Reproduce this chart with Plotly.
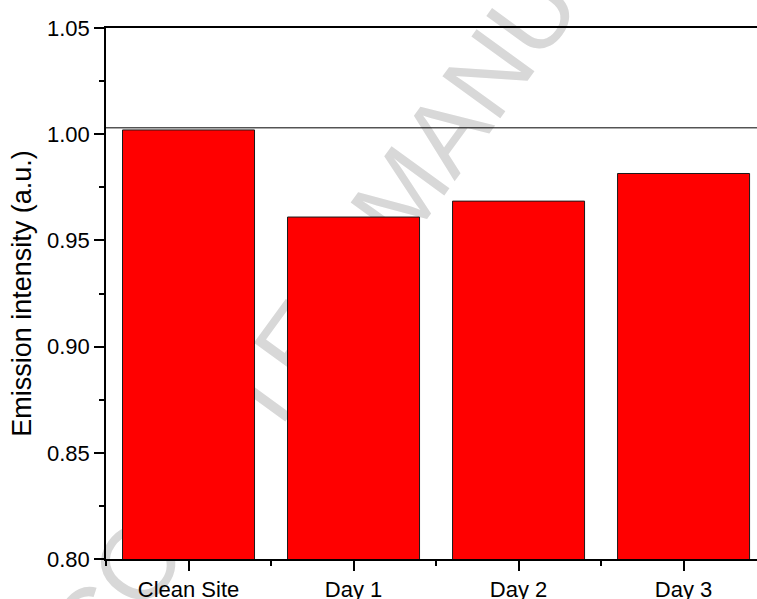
import math
import plotly.graph_objects as go

# Emission intensity for each sampling stage
categories = ["Clean Site", "Day 1", "Day 2", "Day 3"]
intensity = [1.002, 0.961, 0.9685, 0.9815]
reference_level = 1.003

y_ticks = [0.80, 0.85, 0.90, 0.95, 1.00, 1.05]
y_tick_labels = ["0.80", "0.85", "0.90", "0.95", "1.00", "1.05"]

watermark_words = ["ACCEPTED", "MANUSCRIPT"]

FONT = "Liberation Sans, Arial, sans-serif"
W, H = 757, 599
ML, MR, MT, MB = 106, 0, 28, 40
PW, PH = W - ML - MR, H - MT - MB

x_pos = list(range(len(categories)))

fig = go.Figure()
fig.add_trace(go.Bar(
    x=x_pos, y=intensity, width=0.8,
    marker=dict(color="#ff0000", line=dict(color="#1a1a1a", width=1)),
    showlegend=False, hoverinfo="skip",
))

# Watermark: two words laid along a diagonal, drawn as tick labels on
# hidden overlay axes placed below the bars.
angle = 54.0
wm_size = 104
sa, ca = math.sin(math.radians(angle)), math.cos(math.radians(angle))
ux, uy = ca, -sa                       # reading direction
baseline_start = (393.0, 258.0)        # baseline point where word two begins
gap = 0.278 * wm_size                  # width of the space between words
mid = 0.35 * wm_size                   # labels are centred on their anchor
pad = 3.0

second = (baseline_start[0] - mid * sa - pad, baseline_start[1] - mid * ca)
first = (baseline_start[0] - gap * ux - mid * sa + pad,
         baseline_start[1] - gap * uy - mid * ca)


def to_paper(p):
    return (p[0] - ML) / PW, (H - MB - p[1]) / PH


wm_font = dict(family=FONT, size=wm_size, color="#d8d8d8")

for yname, side, pt, word in (("y3", "left", first, watermark_words[0]),
                               ("y2", "right", second, watermark_words[1])):
    px_, py_ = to_paper(pt)
    fig.add_trace(go.Scatter(x=[0], y=[0.5], yaxis=yname, mode="markers",
                             marker=dict(opacity=0), showlegend=False,
                             hoverinfo="skip"))
    fig.layout["yaxis" + yname[1:]] = dict(
        overlaying="y", anchor="free", position=px_, side=side,
        range=[0, 1], tickmode="array", tickvals=[py_], ticktext=[word],
        tickangle=-angle, tickfont=wm_font, ticks="", showline=False,
        ticklabeloverflow="allow", automargin=False,
        showgrid=False, zeroline=False, layer="below traces", fixedrange=True,
    )

fig.add_shape(type="line", xref="paper", x0=0, x1=1, yref="y",
              y0=reference_level, y1=reference_level,
              line=dict(color="black", width=1))

fig.update_layout(
    width=W, height=H,
    margin=dict(l=ML, r=MR, t=MT, b=MB, pad=0, autoexpand=False),
    paper_bgcolor="white", plot_bgcolor="rgba(0,0,0,0)",
    font=dict(family=FONT, color="black"),
    showlegend=False,
    xaxis=dict(
        range=[-0.5, 3.445], tickmode="array", tickvals=x_pos,
        ticktext=categories, tickfont=dict(size=22, family=FONT),
        tickangle=0, automargin=False,
        ticks="outside", ticklen=10, tickwidth=1.5, tickcolor="black",
        minor=dict(ticks="outside", ticklen=5, tickwidth=1.5,
                   tickcolor="black", tick0=0.5, dtick=1),
        showline=True, linewidth=2, linecolor="black", mirror=True,
        showgrid=False, zeroline=False, fixedrange=True,
    ),
    yaxis=dict(
        range=[0.80, 1.05], tickmode="array", tickvals=y_ticks,
        ticktext=y_tick_labels, tickfont=dict(size=22, family=FONT),
        automargin=False,
        ticks="outside", ticklen=10, tickwidth=1.5, tickcolor="black",
        minor=dict(ticks="outside", ticklen=5, tickwidth=1.5,
                   tickcolor="black", tick0=0.8, dtick=0.025),
        showline=True, linewidth=1.5, linecolor="black",
        showgrid=False, zeroline=False, fixedrange=True,
        title=dict(text="Emission intensity (a.u.)",
                   font=dict(size=27, family=FONT), standoff=8),
    ),
)

fig.write_html("out.html")
